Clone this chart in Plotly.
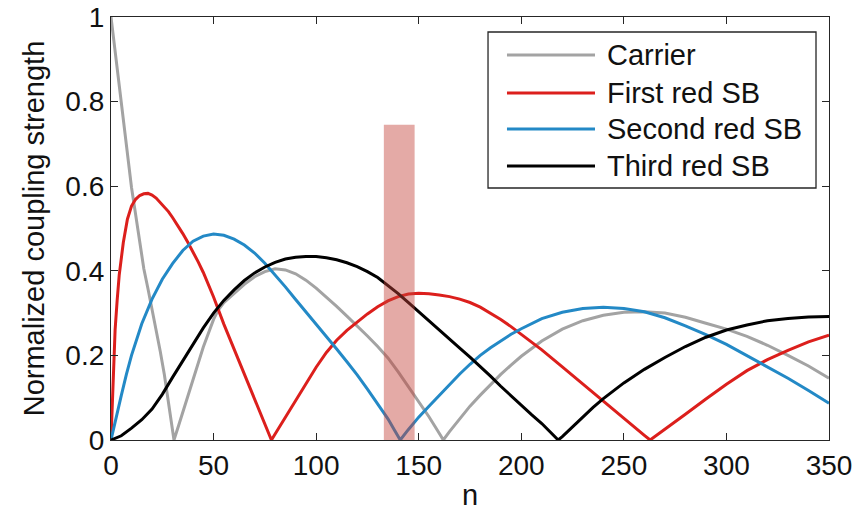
import plotly.graph_objects as go

# ---- data ----
carrier_n = [0, 2, 4, 6, 8, 10, 12, 14, 16, 18, 20, 22, 24, 26, 28, 30, 30.7,
             33, 35, 40, 45, 50, 52, 55, 60, 65, 70, 75, 80, 85, 90, 95, 100, 105, 110,
             115, 120, 125, 130, 135, 140, 145, 150, 155, 160, 162,
             165, 170, 175, 180, 185, 190, 195, 200, 210, 220, 230, 240, 250, 260,
             270, 280, 290, 300, 310, 320, 330, 340, 350]
carrier_v = [1.0, 0.92, 0.835, 0.755, 0.675, 0.597, 0.533, 0.469, 0.405, 0.358, 0.31, 0.26, 0.21, 0.155, 0.09, 0.025, 0.0,
             0.035, 0.065, 0.14, 0.22, 0.285, 0.305, 0.325, 0.347, 0.368, 0.386, 0.398, 0.405, 0.402, 0.393, 0.378, 0.359, 0.338, 0.316,
             0.293, 0.27, 0.246, 0.221, 0.194, 0.161, 0.126, 0.092, 0.055, 0.016, 0.0,
             0.02, 0.05, 0.08, 0.106, 0.131, 0.155, 0.177, 0.198, 0.234, 0.262, 0.282, 0.295, 0.302, 0.303,
             0.3, 0.29, 0.276, 0.262, 0.245, 0.224, 0.2, 0.175, 0.146]

red1_n = [0, 0.5, 1, 2, 3, 4, 6, 8, 10, 12, 14, 16, 18, 20, 22, 25, 28, 30, 32.5, 35, 37.5, 40, 42.5, 45,
          50, 55, 60, 65, 70, 75, 78.2,
          80, 85, 90, 95, 100, 105, 110, 115, 120, 125, 130, 135, 140, 145, 150, 155, 160,
          165, 170, 175, 180, 185, 190, 195, 200, 205, 210, 220, 230, 240, 250, 255, 260, 262.8,
          270, 280, 290, 300, 310, 320, 330, 340, 350]
red1_v = [0.0, 0.07, 0.15, 0.26, 0.33, 0.39, 0.467, 0.522, 0.553, 0.569, 0.578, 0.582, 0.583, 0.579, 0.572, 0.557, 0.54, 0.526, 0.508, 0.488, 0.467, 0.445, 0.421, 0.396,
          0.338, 0.274, 0.214, 0.155, 0.096, 0.037, 0.0,
          0.014, 0.054, 0.094, 0.133, 0.172, 0.207, 0.236, 0.259, 0.279, 0.298, 0.315, 0.329, 0.339, 0.345, 0.347, 0.346, 0.343,
          0.339, 0.333, 0.325, 0.314, 0.3, 0.285, 0.268, 0.25, 0.232, 0.213, 0.173, 0.132, 0.091, 0.05, 0.031, 0.011, 0.0,
          0.025, 0.061, 0.097, 0.132, 0.164, 0.19, 0.212, 0.232, 0.248]

red2_n = [0, 2.5, 5, 7.5, 10, 15, 20, 25, 30, 35, 40, 45, 50, 55, 60, 65, 70, 75, 80, 85, 90, 95, 100,
          105, 110, 115, 120, 125, 130, 135, 138, 141,
          145, 150, 155, 160, 165, 170, 175, 180, 185, 190, 195, 200, 210, 220, 230, 240, 250,
          260, 270, 280, 290, 300, 310, 320, 330, 340, 350]
red2_v = [0.0, 0.055, 0.105, 0.155, 0.2, 0.275, 0.333, 0.38, 0.417, 0.448, 0.47, 0.482, 0.487, 0.484, 0.475, 0.461, 0.442, 0.418, 0.391, 0.362, 0.332, 0.303, 0.275,
          0.245, 0.215, 0.185, 0.154, 0.12, 0.085, 0.05, 0.025, 0.0,
          0.025, 0.054, 0.08, 0.106, 0.131, 0.156, 0.179, 0.2, 0.218, 0.235, 0.25, 0.263, 0.287, 0.302, 0.311, 0.314, 0.311,
          0.303, 0.289, 0.27, 0.249, 0.226, 0.2, 0.174, 0.146, 0.117, 0.087]

red3_n = [0, 5, 10, 15, 20, 25, 30, 35, 40, 45, 50, 55, 60, 65, 70, 75, 80, 85, 90, 95, 100,
          105, 110, 115, 120, 125, 130, 135, 140, 145, 150, 155, 160, 165, 170, 175, 180, 185,
          190, 195, 200, 205, 210, 215, 218,
          220, 225, 230, 235, 240, 250, 260, 270, 280, 290, 300, 310, 320, 330, 340, 350]
red3_v = [0.0, 0.01, 0.028, 0.048, 0.073, 0.108, 0.148, 0.188, 0.228, 0.265, 0.3, 0.33, 0.355, 0.377, 0.395, 0.409, 0.42, 0.428, 0.432, 0.434, 0.434,
          0.431, 0.426, 0.419, 0.41, 0.398, 0.384, 0.366, 0.346, 0.325, 0.303, 0.281, 0.26, 0.238, 0.217, 0.196, 0.174, 0.151,
          0.127, 0.104, 0.082, 0.06, 0.039, 0.014, 0.0,
          0.008, 0.03, 0.054, 0.077, 0.098, 0.135, 0.167, 0.195, 0.221, 0.243, 0.26, 0.272, 0.282, 0.287, 0.291, 0.292]

series_names = ["Carrier", "First red SB", "Second red SB", "Third red SB"]
series_colors = ["#a3a3a3", "#dc1f1c", "#2389c6", "#000000"]

x_ticks = [0, 50, 100, 150, 200, 250, 300, 350]
y_ticks = [0, 0.2, 0.4, 0.6, 0.8, 1]
y_tick_labels = ["0", "0.2", "0.4", "0.6", "0.8", "1"]
x_title = "n"
y_title = "Normalized coupling strength"

highlight_n = [133, 148]
highlight_v = [-0.006, 0.745]

# ---- figure ----
FONT = "Liberation Sans, Arial, Helvetica, sans-serif"
TXT = "#111111"
fig = go.Figure()
for name, color, xs, ys in zip(series_names, series_colors,
                               [carrier_n, red1_n, red2_n, red3_n],
                               [carrier_v, red1_v, red2_v, red3_v]):
    fig.add_trace(go.Scatter(x=xs, y=ys, mode="lines", name=name,
                             line=dict(color=color, width=3), showlegend=False))

fig.add_shape(type="rect", xref="x", yref="y",
              x0=highlight_n[0], x1=highlight_n[1], y0=highlight_v[0], y1=highlight_v[1],
              fillcolor="rgba(195,66,57,0.45)", line=dict(width=0), layer="above")

# MATLAB-style legend box (paper coordinates of the plot area)
leg_box = dict(x0=0.5251, x1=0.9819, y0=0.5957, y1=0.9645)
leg_line_x = (0.5515, 0.6741)
leg_text_x = 0.688
leg_rows_y = [0.9102, 0.8203, 0.7352, 0.6478]
fig.add_shape(type="rect", xref="paper", yref="paper", **leg_box,
              fillcolor="white", line=dict(color="#262626", width=1.3), layer="above")
for name, color, ry in zip(series_names, series_colors, leg_rows_y):
    fig.add_shape(type="line", xref="paper", yref="paper",
                  x0=leg_line_x[0], x1=leg_line_x[1], y0=ry, y1=ry,
                  line=dict(color=color, width=3), layer="above")
    fig.add_annotation(xref="paper", yref="paper", x=leg_text_x, y=ry,
                       xanchor="left", yanchor="middle", text=name, showarrow=False,
                       font=dict(family=FONT, size=29, color=TXT))

# x-axis title placed as an annotation, sitting on the bottom edge of the figure
fig.add_annotation(xref="paper", yref="paper", x=0.5, y=-0.1702,
                   xanchor="center", yanchor="bottom", text=x_title, showarrow=False,
                   font=dict(family=FONT, size=29, color=TXT), borderpad=0)

axis_common = dict(showline=True, linecolor="#262626", linewidth=1.3, mirror="ticks",
                   ticks="inside", ticklen=7, tickwidth=1.3, tickcolor="#262626",
                   showgrid=False, zeroline=False,
                   tickfont=dict(family=FONT, size=28, color=TXT))

fig.update_xaxes(range=[0, 350], tickvals=x_ticks, ticktext=[str(t) for t in x_ticks],
                 **axis_common)
fig.update_yaxes(range=[0, 1], tickvals=y_ticks, ticktext=y_tick_labels,
                 title=dict(text=y_title,
                            font=dict(family=FONT, size=29, color=TXT), standoff=12),
                 **axis_common)

fig.update_layout(
    width=856, height=512,
    margin=dict(l=111, r=27, t=17, b=72, autoexpand=False),
    paper_bgcolor="white", plot_bgcolor="white",
    font=dict(family=FONT, color=TXT),
    showlegend=False,
)

fig.write_html("out.html", config={"displayModeBar": False},
               post_script="document.body.style.margin='0px';")
